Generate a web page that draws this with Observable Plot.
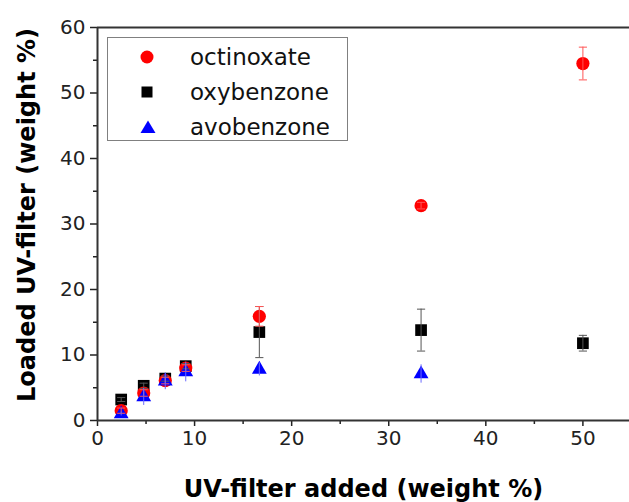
<!DOCTYPE html>
<html>
<head>
<meta charset="utf-8">
<script src="https://cdn.jsdelivr.net/npm/d3@7"></script>
<script src="https://cdn.jsdelivr.net/npm/@observablehq/plot@0.6"></script>
<style>
  html, body { margin: 0; padding: 0; background: #fff; }
  #wrap { position: relative; width: 629px; height: 502px; overflow: hidden; font-family: "DejaVu Sans", sans-serif; }
  #legend { position: absolute; left: 107px; top: 37px; width: 239px; height: 102px; border: 1px solid #808080; background: #fff; }
  .row { position: absolute; left: 0; height: 30px; display: flex; align-items: center; }
  .row svg { position: absolute; left: 31px; }
  .row span { position: absolute; left: 82px; font-size: 23px; color: #111; white-space: nowrap; }
</style>
</head>
<body>
<div id="wrap"></div>
<script>
// ---- data ----
const xAdded = [2.44, 4.76, 6.98, 9.09, 16.67, 33.33, 50];
const octinoxate = [1.5, 4.2, 6.1, 8.0, 15.9, 32.8, 54.5];
const octinoxateErr = [0.4, 0.5, 0.5, 0.5, 1.5, 0.5, 2.5];
const oxybenzone = [3.2, 5.3, 6.4, 8.3, 13.5, 13.8, 11.8];
const oxybenzoneErr = [0.3, 0.4, 0.4, 0.4, 3.9, 3.2, 1.2];
const avobenzone = [1.0, 3.6, 6.0, 7.4, 7.8, 7.1];
const avobenzoneErr = [0.3, 1.3, 1.3, 1.5, 1.0, 1.4];
const seriesNames = ["octinoxate", "oxybenzone", "avobenzone"];
const seriesColors = ["#ff0000", "#000000", "#0000ff"];
const errColors = ["#ff5555", "#555555", "#6a6aff"];
const xMajor = [0, 10, 20, 30, 40, 50];
const xMinor = [5, 15, 25, 35, 45, 55];
const yMajor = [0, 10, 20, 30, 40, 50, 60];
const yMinor = [5, 15, 25, 35, 45, 55];
const xTitle = "UV-filter added (weight %)";
const yTitle = "Loaded UV-filter (weight %)";

const mk = (vals, errs, s) => vals.map((v, i) => ({x: xAdded[i], y: v, e: errs[i], s}));
const oct = mk(octinoxate, octinoxateErr, seriesNames[0]);
const oxy = mk(oxybenzone, oxybenzoneErr, seriesNames[1]);
const avo = mk(avobenzone, avobenzoneErr, seriesNames[2]);

const capW = 0.42;
const errBars = (data, color, caps) => {
  const marks = [Plot.ruleX(data, {x: "x", y1: d => d.y - d.e, y2: d => d.y + d.e, stroke: color, strokeWidth: 1})];
  if (caps) {
    marks.push(Plot.link(data, {x1: d => d.x - capW, x2: d => d.x + capW, y1: d => d.y + d.e, y2: d => d.y + d.e, stroke: color, strokeWidth: 1}));
    marks.push(Plot.link(data, {x1: d => d.x - capW, x2: d => d.x + capW, y1: d => d.y - d.e, y2: d => d.y - d.e, stroke: color, strokeWidth: 1}));
  }
  return marks;
};

const chart = Plot.plot({
  width: 629,
  height: 502,
  marginLeft: 97,
  marginRight: 0,
  marginTop: 27,
  marginBottom: 82,
  style: {fontFamily: "DejaVu Sans, sans-serif", fontSize: "20px", color: "#222", background: "#fff"},
  x: {domain: [0, 54.8]},
  y: {domain: [0, 60]},
  marks: [
    Plot.axisX({ticks: xMajor, tickSize: 6, tickPadding: 4, fontSize: 20, label: null, strokeWidth: 1.5}),
    Plot.axisX({ticks: xMinor, tickSize: 4, tickFormat: () => "", label: null, strokeWidth: 1.5}),
    Plot.axisY({ticks: yMajor, tickSize: 7, tickPadding: 5, fontSize: 20, label: null, strokeWidth: 1.5}),
    Plot.axisY({ticks: yMinor, tickSize: 4, tickFormat: () => "", label: null, strokeWidth: 1.5}),
    Plot.ruleY([0, 60], {stroke: "#333", strokeWidth: 2}),
    Plot.ruleX([0], {stroke: "#333", strokeWidth: 2}),
    Plot.dot(oxy, {x: "x", y: "y", symbol: "square", r: 6.6, fill: seriesColors[1], stroke: null}),
    Plot.dot(oct, {x: "x", y: "y", symbol: "circle", r: 6.6, fill: seriesColors[0], stroke: null}),
    Plot.dot(avo, {x: "x", y: "y", symbol: "triangle", r: 5.5, fill: seriesColors[2], stroke: null}),
    ...errBars(oxy, errColors[1], true),
    ...errBars(oct, errColors[0], true),
    ...errBars(avo, errColors[2], false),
    Plot.text([xTitle], {text: d => d, frameAnchor: "bottom", dy: 76, fontSize: 24, fontWeight: "bold", fill: "#000", lineAnchor: "bottom"}),
    Plot.text([yTitle], {text: d => d, frameAnchor: "left", textAnchor: "middle", lineAnchor: "middle", dx: -70, dy: -9, rotate: -90, fontSize: 24, fontWeight: "bold", fill: "#000"})
  ]
});

const wrap = document.getElementById("wrap");
wrap.appendChild(chart);

// legend
const legend = document.createElement("div");
legend.id = "legend";
const symSvg = (i) => {
  const c = seriesColors[i];
  if (i === 0) return `<svg width="16" height="16" viewBox="-8 -8 16 16"><circle r="6.5" fill="${c}"/></svg>`;
  if (i === 1) return `<svg width="16" height="16" viewBox="-8 -8 16 16"><rect x="-5.5" y="-5.5" width="11" height="11" fill="${c}"/></svg>`;
  return `<svg width="18" height="16" viewBox="-9 -8 18 16"><path d="M0,-6.5L7.5,6L-7.5,6Z" fill="${c}"/></svg>`;
};
seriesNames.forEach((name, i) => {
  const row = document.createElement("div");
  row.className = "row";
  row.style.top = (4 + i * 35) + "px";
  row.innerHTML = symSvg(i) + `<span>${name}</span>`;
  legend.appendChild(row);
});
wrap.appendChild(legend);
</script>
</body>
</html>
